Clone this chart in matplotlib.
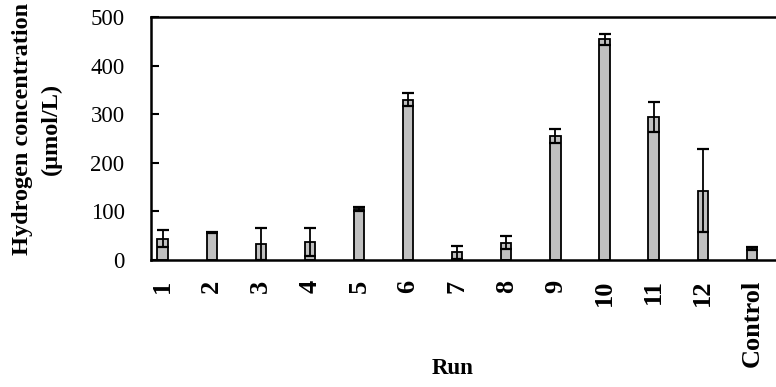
import matplotlib
matplotlib.use("Agg")
import matplotlib.pyplot as plt
import numpy as np

runs = ["1", "2", "3", "4", "5", "6", "7", "8", "9", "10", "11", "12", "Control"]
h2_conc = [44, 57, 33, 37, 105, 330, 16, 36, 255, 454, 295, 143, 24]
h2_err = [18, 1, 32, 28, 5, 14, 13, 13, 15, 12, 31, 86, 3]
yticks = [0, 100, 200, 300, 400, 500]

plt.rcParams['font.family'] = ['Liberation Serif', 'DejaVu Serif']

fig = plt.figure(figsize=(7.76, 3.87), dpi=100)
ax = fig.add_axes([151/776, 1 - 260/387, (776 - 151)/776 + 0.01, (260 - 17)/387])

x = np.arange(1, len(runs) + 1)
ax.bar(x, h2_conc, width=0.21, color="#c0c0c0", edgecolor="black", linewidth=1.3, zorder=2)
ax.errorbar(x, h2_conc, yerr=h2_err, fmt="none", ecolor="black", elinewidth=1.3,
            capsize=4.5, capthick=1.6, zorder=3)

ax.set_xlim(0.764, 13.65)
ax.set_ylim(0, 500)
ax.set_yticks(yticks)
ax.set_yticklabels([str(v) for v in yticks], fontsize=16.5)
ax.set_xticks(x)
ax.set_xticklabels(runs, rotation=90, fontsize=19, fontweight="bold")
ax.tick_params(axis="y", direction="in", length=6, width=1.5, pad=19)
ax.tick_params(axis="x", length=0, pad=14)
for s in ["left", "top", "bottom"]:
    ax.spines[s].set_linewidth(1.8)
ax.spines["right"].set_visible(False)

fig.text(37/776, 1 - 129/387, "Hydrogen concentration\n(μmol/L)", ha="center", va="center",
         rotation=90, fontsize=17.5, fontweight="bold", linespacing=1.5)
fig.text(453/776, 1 - 369/387, "Run", ha="center", va="center", fontsize=16.5, fontweight="bold")

fig.savefig("out.png", dpi=100)
